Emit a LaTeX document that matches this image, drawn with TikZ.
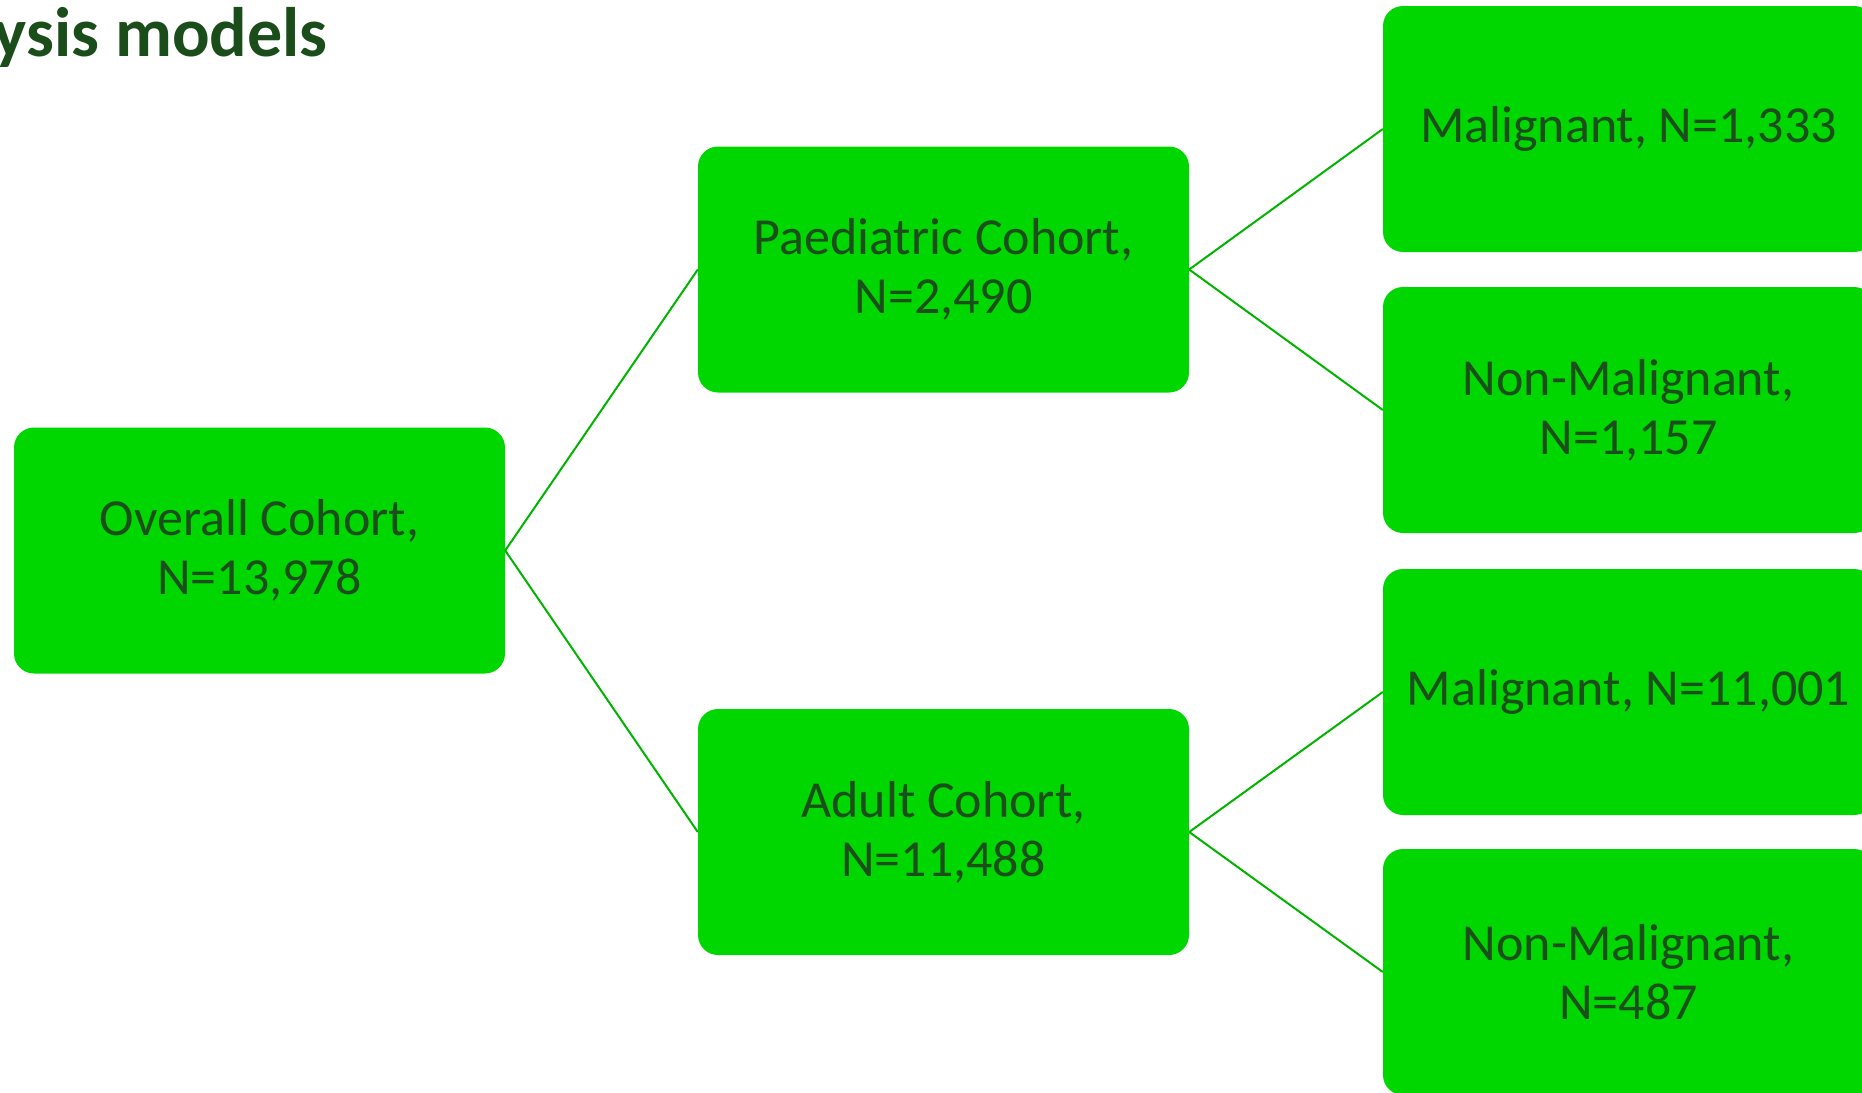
\documentclass[tikz,border=0pt]{standalone}
\usepackage{fontspec}
\setmainfont{Carlito}
\definecolor{boxfill}{HTML}{00D600}
\definecolor{linecol}{HTML}{00B400}
\definecolor{txtcol}{HTML}{1C4E1C}
\definecolor{titlecol}{HTML}{1B4D1B}
\begin{document}
\begin{tikzpicture}[x=1pt,y=-1pt,
  cohort/.style={rectangle, rounded corners=20pt, fill=boxfill, draw=none,
    minimum width=491pt, minimum height=246pt, inner sep=0pt, align=center,
    text=txtcol, font=\fontsize{52}{59}\selectfont},
  link/.style={draw=linecol, line width=2pt}]
\useasboundingbox (0,0) rectangle (1862,1092);
\clip (0,0) rectangle (1862,1092);
\node[anchor=base east, inner sep=0pt, text=titlecol, font=\fontsize{70}{84}\selectfont\bfseries] (title) at (328,56) {Analysis models};
\node[cohort] (overall) at (259.5,550.5) {Overall Cohort,\\N=13,978};
\node[cohort] (paed) at (943.5,269.5) {Paediatric Cohort,\\N=2,490};
\node[cohort] (adult) at (943.5,832) {Adult Cohort,\\N=11,488};
\node[cohort] (m1) at (1628.5,129) {Malignant, N=1,333};
\node[cohort] (nm1) at (1628.5,410) {Non-Malignant,\\N=1,157};
\node[cohort] (m2) at (1628.5,692) {Malignant, N=11,001};
\node[cohort] (nm2) at (1628.5,972) {Non-Malignant,\\N=487};
\draw[link] (overall.east) -- (paed.west);
\draw[link] (overall.east) -- (adult.west);
\draw[link] (paed.east) -- (m1.west);
\draw[link] (paed.east) -- (nm1.west);
\draw[link] (adult.east) -- (m2.west);
\draw[link] (adult.east) -- (nm2.west);
\end{tikzpicture}
\end{document}
